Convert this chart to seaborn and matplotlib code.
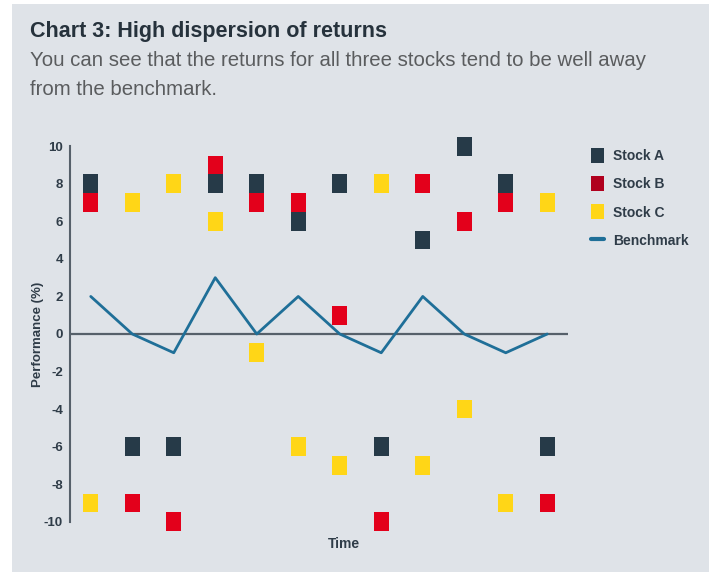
import numpy as np
import pandas as pd
import matplotlib
matplotlib.use("Agg")
import matplotlib.pyplot as plt
from matplotlib.lines import Line2D
from matplotlib.patches import Patch, Rectangle
import seaborn as sns

# data
time = list(range(1, 13))
stock_a = [8, -6, -6, 8, 8, 6, 8, -6, 5, 10, 8, -6]
stock_b = [7, -9, -10, 9, 7, 7, 1, -10, 8, 6, 7, -9]
stock_c = [-9, 7, 8, 6, -1, -6, -7, 8, -7, -4, -9, 7]
benchmark = [2, 0, -1, 3, 0, 2, 0, -1, 2, 0, -1, 0]

stocks = ["Stock A", "Stock B", "Stock C"]
colors = {"Stock A": "#263a48", "Stock B": "#e3001b", "Stock C": "#ffd617"}
legend_colors = {"Stock A": "#263a48", "Stock B": "#b0001e", "Stock C": "#ffd617"}
bench_color = "#1f6f98"
bg = "#dfe3e8"
text_dark = "#2f3c48"

df = pd.DataFrame({
    "time": time * 3,
    "value": stock_a + stock_b + stock_c,
    "stock": [s for s in stocks for _ in time],
})
bench_df = pd.DataFrame({"time": time, "value": benchmark})

sns.set_style("white")
plt.rcParams["font.family"] = ["Liberation Sans", "DejaVu Sans"]
plt.rcParams["axes.unicode_minus"] = False

fig = plt.figure(figsize=(7.14, 5.76), dpi=100)
fig.patch.set_facecolor("white")
fig.patches.append(Rectangle((12 / 714, 4 / 576), 697 / 714, 568 / 576,
                             transform=fig.transFigure, facecolor=bg,
                             edgecolor="none", zorder=-10))

ax = fig.add_axes([70 / 714, 1 - 533 / 576, 498 / 714, 398 / 576])
ax.set_facecolor(bg)

# tall rectangular marker
rect = [(-0.78, -1), (0.78, -1), (0.78, 1), (-0.78, 1), (-0.78, -1)]

ax.axhline(0, color="#56606a", lw=1.6, zorder=1)
sns.lineplot(data=bench_df, x="time", y="value", color=bench_color, lw=2,
             ax=ax, zorder=2)
sns.scatterplot(data=df, x="time", y="value", hue="stock", palette=colors,
                marker=rect, s=180, linewidth=0, legend=False, ax=ax,
                zorder=3, clip_on=False)

ax.set_xlim(0.5, 12.5)
ax.set_ylim(-10.6, 10.6)
ax.set_yticks(range(-10, 11, 2))
ax.set_xticks([])
for s in ["top", "right", "bottom"]:
    ax.spines[s].set_visible(False)
ax.spines["left"].set_bounds(-10, 10)
ax.spines["left"].set_color("#56606a")
ax.spines["left"].set_linewidth(1.5)
ax.tick_params(axis="y", length=0, pad=5, labelsize=9.5, labelcolor=text_dark)
for lab in ax.get_yticklabels():
    lab.set_fontweight("bold")

ax.set_xlabel("Time", fontsize=10, fontweight="bold", color=text_dark)
ax.set_ylabel("Performance (%)", fontsize=9.5, fontweight="bold", color=text_dark)
ax.xaxis.set_label_coords(0.55, -0.01)
ax.yaxis.set_label_coords(-0.052, 0.5)

handles = [Patch(facecolor=legend_colors[s], edgecolor="none", label=s) for s in stocks]
handles.append(Line2D([0], [0], color=bench_color, lw=3, label="Benchmark"))
leg = fig.legend(handles=handles, loc="upper left",
                 bbox_to_anchor=(578 / 714, 1 - 135 / 576), frameon=False,
                 handlelength=1.0, handleheight=1.3, handletextpad=0.6,
                 labelspacing=0.95,
                 prop={"weight": "bold", "size": 10})
for t in leg.get_texts():
    t.set_color(text_dark)

fig.text(30 / 714, 1 - 37 / 576, "Chart 3: High dispersion of returns",
         fontsize=15.5, fontweight="bold", color="#26323c")
fig.text(30 / 714, 1 - 66 / 576,
         "You can see that the returns for all three stocks tend to be well away",
         fontsize=14.7, color="#5a5c5e")
fig.text(30 / 714, 1 - 95 / 576, "from the benchmark.",
         fontsize=14.7, color="#5a5c5e")

fig.savefig("out.png", dpi=100, facecolor=fig.get_facecolor())
